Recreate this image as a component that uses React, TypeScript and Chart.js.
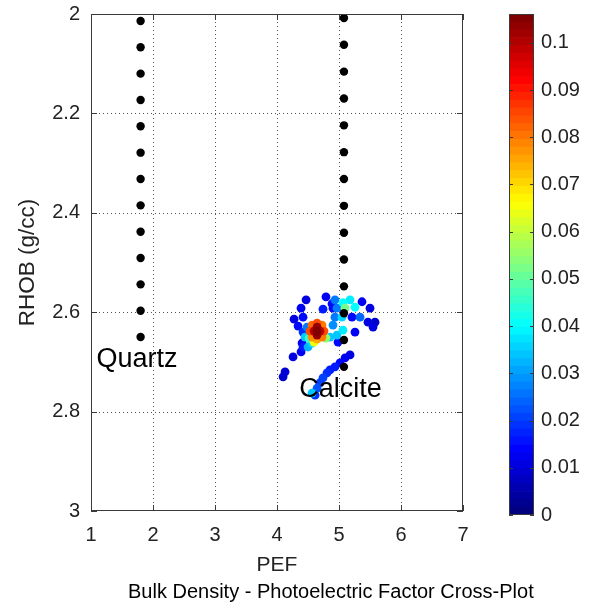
import React, { useEffect, useRef } from 'react';
import { Chart, registerables } from 'chart.js';
Chart.register(...registerables);

const FONT = '"Liberation Sans", Arial, Helvetica, sans-serif';

// Axis ticks
const pefTicks = [1, 2, 3, 4, 5, 6, 7];
const rhobTicks = [2, 2.2, 2.4, 2.6, 2.8, 3];
const densityTicks = [0, 0.01, 0.02, 0.03, 0.04, 0.05, 0.06, 0.07, 0.08, 0.09, 0.1];
const densityMax = 0.1061;

// Mineral lines
const quartzPEF = [1.8, 1.8, 1.8, 1.8, 1.8, 1.8, 1.8, 1.8, 1.8, 1.8, 1.8, 1.8, 1.8];
const quartzRHOB = [2.014, 2.067, 2.12, 2.173, 2.226, 2.279, 2.332, 2.385, 2.438, 2.491, 2.544, 2.597, 2.65];
const calcitePEF = [5.08, 5.08, 5.08, 5.08, 5.08, 5.08, 5.08, 5.08, 5.08, 5.08, 5.08, 5.08, 5.08, 5.08];
const calciteRHOB = [2.008, 2.062, 2.116, 2.17, 2.224, 2.278, 2.332, 2.386, 2.44, 2.494, 2.548, 2.602, 2.656, 2.71];

// Labels
const labelText = ['Quartz', 'Calcite'];
const labelPEF = [1.09, 4.36];
const labelRHOB = [2.711, 2.771];

// Log samples (PEF, RHOB, point density)
const samplePEF = [
  4.098, 4.13, 4.259, 4.388, 4.42, 4.501, 4.565, 4.984, 5.178, 5.097, 5.016, 4.935, 4.855,
  4.807, 4.742, 4.694, 4.646, 4.565, 4.614, 4.469, 4.79, 4.887, 4.742, 4.968, 4.388, 4.42,
  4.275, 4.34, 4.485, 4.42, 4.452, 4.903, 4.855, 4.404, 4.935, 5.064, 5.097, 5.258, 5.371,
  5.178, 5.5, 4.903, 4.935, 5.048, 5.339, 5.21, 5.468, 5.581, 5.549, 5.258, 5.064, 4.968,
  4.646, 4.646, 4.646, 4.598, 4.694, 4.758, 4.726, 4.646, 4.565, 4.533, 4.565, 4.646, 4.726,
  4.79, 4.517, 4.597,
];
const sampleRHOB = [
  2.73, 2.72, 2.69, 2.68, 2.67, 2.67, 2.662, 2.66, 2.686, 2.692, 2.702, 2.71, 2.716,
  2.722, 2.732, 2.742, 2.753, 2.763, 2.767, 2.575, 2.569, 2.583, 2.594, 2.592, 2.592, 2.61,
  2.614, 2.628, 2.63, 2.64, 2.65, 2.626, 2.65, 2.662, 2.575, 2.581, 2.592, 2.59, 2.579,
  2.575, 2.592, 2.592, 2.61, 2.61, 2.61, 2.61, 2.62, 2.62, 2.63, 2.64, 2.636, 2.646,
  2.638, 2.63, 2.646, 2.638, 2.638, 2.638, 2.65, 2.654, 2.65, 2.638, 2.626, 2.622, 2.626,
  2.652, 2.652, 2.66,
];
const sampleDensity = [
  0.008, 0.009, 0.01, 0.012, 0.016, 0.032, 0.036, 0.014, 0.01, 0.012, 0.014, 0.016, 0.016,
  0.018, 0.02, 0.02, 0.022, 0.034, 0.018, 0.01, 0.012, 0.014, 0.016, 0.026, 0.012, 0.014,
  0.01, 0.014, 0.026, 0.018, 0.034, 0.028, 0.034, 0.012, 0.026, 0.04, 0.052, 0.04, 0.012,
  0.038, 0.01, 0.014, 0.026, 0.036, 0.024, 0.014, 0.01, 0.008, 0.01, 0.012, 0.038, 0.034,
  0.106, 0.104, 0.104, 0.1, 0.1, 0.085, 0.08, 0.075, 0.078, 0.085, 0.082, 0.085, 0.08,
  0.055, 0.045, 0.065,
];

function jet(t: number): string {
  const c = (v: number) => Math.round(255 * Math.max(0, Math.min(1, v)));
  const r = c(Math.min(4 * t - 1.5, -4 * t + 4.5));
  const g = c(Math.min(4 * t - 0.5, -4 * t + 3.5));
  const b = c(Math.min(4 * t + 0.5, -4 * t + 2.5));
  return `rgb(${r},${g},${b})`;
}

const fmt = (v: number) => String(Number(v.toFixed(3)));

const gridPlugin = {
  id: 'matlabGrid',
  beforeDatasetsDraw(chart: any) {
    const { ctx, chartArea: a, scales } = chart;
    const x = scales.x;
    const y = scales.y;
    ctx.save();
    ctx.strokeStyle = '#555';
    ctx.lineWidth = 1;
    ctx.setLineDash([1, 3]);
    ctx.beginPath();
    pefTicks.slice(1, -1).forEach((v) => {
      const px = Math.round(x.getPixelForValue(v)) + 0.5;
      ctx.moveTo(px, a.bottom);
      ctx.lineTo(px, a.top);
    });
    rhobTicks.slice(1, -1).forEach((v) => {
      const py = Math.round(y.getPixelForValue(v)) + 0.5;
      ctx.moveTo(a.left, py);
      ctx.lineTo(a.right, py);
    });
    ctx.stroke();
    ctx.restore();
  },
};

const boxPlugin = {
  id: 'matlabBox',
  afterDatasetsDraw(chart: any) {
    const { ctx, chartArea: a, scales } = chart;
    const x = scales.x;
    const y = scales.y;
    ctx.save();
    ctx.fillStyle = '#000';
    ctx.font = `27px ${FONT}`;
    ctx.textBaseline = 'alphabetic';
    ctx.textAlign = 'left';
    labelText.forEach((t, i) => {
      ctx.fillText(t, x.getPixelForValue(labelPEF[i]), y.getPixelForValue(labelRHOB[i]));
    });
    ctx.strokeStyle = '#3a3a3a';
    ctx.lineWidth = 1;
    ctx.strokeRect(a.left + 0.5, a.top + 0.5, a.right - a.left - 1, a.bottom - a.top - 1);
    const tl = 6;
    ctx.beginPath();
    pefTicks.forEach((v) => {
      const px = Math.round(x.getPixelForValue(v)) + 0.5;
      ctx.moveTo(px, a.bottom);
      ctx.lineTo(px, a.bottom - tl);
      ctx.moveTo(px, a.top);
      ctx.lineTo(px, a.top + tl);
    });
    rhobTicks.forEach((v) => {
      const py = Math.round(y.getPixelForValue(v)) + 0.5;
      ctx.moveTo(a.left, py);
      ctx.lineTo(a.left + tl, py);
      ctx.moveTo(a.right, py);
      ctx.lineTo(a.right - tl, py);
    });
    ctx.stroke();
    ctx.restore();
  },
};

const barBoxPlugin = {
  id: 'barBox',
  afterDatasetsDraw(chart: any) {
    const { ctx, chartArea: a, scales } = chart;
    const y = scales.y;
    ctx.save();
    ctx.strokeStyle = '#3a3a3a';
    ctx.lineWidth = 1;
    ctx.strokeRect(a.left + 0.5, a.top + 0.5, a.right - a.left - 1, a.bottom - a.top - 1);
    ctx.beginPath();
    densityTicks.forEach((v) => {
      const py = Math.round(y.getPixelForValue(v)) + 0.5;
      ctx.moveTo(a.left, py);
      ctx.lineTo(a.left + 4, py);
      ctx.moveTo(a.right, py);
      ctx.lineTo(a.right - 4, py);
    });
    ctx.stroke();
    ctx.restore();
  },
};

const noPad = (s: any) => {
  s.paddingTop = 0;
  s.paddingBottom = 0;
  s.paddingLeft = 0;
  s.paddingRight = 0;
};

export default function App() {
  const mainRef = useRef<HTMLCanvasElement>(null);
  const barRef = useRef<HTMLCanvasElement>(null);

  useEffect(() => {
    const order = sampleDensity.map((_, i) => i).sort((a, b) => sampleDensity[a] - sampleDensity[b]);
    const samples = order.map((i) => ({ x: samplePEF[i], y: sampleRHOB[i] }));
    const sampleColors = order.map((i) => jet(sampleDensity[i] / densityMax));

    const tickFont = { family: FONT, size: 20 };

    const main = new Chart(mainRef.current!, {
      type: 'scatter',
      data: {
        datasets: [
          {
            label: 'Quartz',
            data: quartzPEF.map((v, i) => ({ x: v, y: quartzRHOB[i] })),
            pointRadius: 4.2,
            pointBackgroundColor: '#000',
            pointBorderWidth: 0,
          },
          {
            label: 'Calcite',
            data: calcitePEF.map((v, i) => ({ x: v, y: calciteRHOB[i] })),
            pointRadius: 4.2,
            pointBackgroundColor: '#000',
            pointBorderWidth: 0,
          },
          {
            label: 'Samples',
            data: samples,
            pointRadius: 4.4,
            pointBackgroundColor: sampleColors,
            pointBorderWidth: 0,
          },
        ],
      },
      options: {
        animation: false,
        responsive: false,
        maintainAspectRatio: false,
        layout: { padding: { top: 14, right: 138, left: 0, bottom: 0 }, autoPadding: false },
        plugins: { legend: { display: false }, tooltip: { enabled: false } },
        scales: {
          x: {
            type: 'linear',
            min: 1,
            max: 7,
            afterBuildTicks: (s: any) => { s.ticks = pefTicks.map((v) => ({ value: v })); },
            afterFit: (s: any) => { s.height = 97; noPad(s); },
            ticks: { font: tickFont, color: '#222', padding: 12, callback: (v: any) => fmt(Number(v)) },
            grid: { display: false, drawTicks: false },
            border: { display: false },
            title: { display: true, text: 'PEF', font: { family: FONT, size: 21 }, color: '#222', padding: { top: 0, bottom: 30 } },
          },
          y: {
            type: 'linear',
            min: 2,
            max: 3,
            reverse: true,
            afterBuildTicks: (s: any) => { s.ticks = rhobTicks.map((v) => ({ value: v })); },
            afterFit: (s: any) => { s.width = 91; noPad(s); },
            ticks: { font: tickFont, color: '#222', padding: 11, callback: (v: any) => fmt(Number(v)) },
            grid: { display: false, drawTicks: false },
            border: { display: false },
            title: { display: true, text: 'RHOB (g/cc)', font: { family: FONT, size: 22.5 }, color: '#222', padding: { top: 14, bottom: 0 } },
          },
        },
      },
      plugins: [gridPlugin, boxPlugin],
    } as any);

    const levels = 64;
    const barDatasets = Array.from({ length: levels }, (_, i) => ({
      label: 'c' + i,
      data: [densityMax / levels],
      backgroundColor: jet(i / (levels - 1)),
      borderWidth: 0,
      barPercentage: 1,
      categoryPercentage: 1,
    }));

    const bar = new Chart(barRef.current!, {
      type: 'bar',
      data: { labels: [''], datasets: barDatasets },
      options: {
        animation: false,
        responsive: false,
        maintainAspectRatio: false,
        layout: { padding: { top: 14, right: 0, left: 29, bottom: 93 }, autoPadding: false },
        plugins: { legend: { display: false }, tooltip: { enabled: false } },
        scales: {
          x: { display: false, stacked: true },
          y: {
            stacked: true,
            position: 'right',
            min: 0,
            max: densityMax,
            afterBuildTicks: (s: any) => { s.ticks = densityTicks.map((v) => ({ value: v })); },
            afterFit: (s: any) => { s.width = 67; noPad(s); },
            ticks: { font: tickFont, color: '#222', padding: 7, callback: (v: any) => fmt(Number(v)) },
            grid: { display: false, drawTicks: false },
            border: { display: false },
          },
        },
      },
      plugins: [barBoxPlugin],
    } as any);

    return () => {
      main.destroy();
      bar.destroy();
    };
  }, []);

  return (
    <div style={{ position: 'absolute', left: 0, top: 0, width: 601, height: 608, background: '#fff', overflow: 'hidden' }}>
      <canvas ref={mainRef} width={601} height={608} style={{ position: 'absolute', left: 0, top: 0 }} />
      <canvas ref={barRef} width={121} height={608} style={{ position: 'absolute', left: 480, top: 0 }} />
      <div
        style={{
          position: 'absolute',
          left: 128,
          top: 580,
          width: 400,
          textAlign: 'center',
          fontFamily: FONT,
          fontSize: 20,
          lineHeight: '23px',
          color: '#000',
          whiteSpace: 'nowrap',
        }}
      >
        Bulk Density - Photoelectric Factor Cross-Plot
      </div>
    </div>
  );
}
